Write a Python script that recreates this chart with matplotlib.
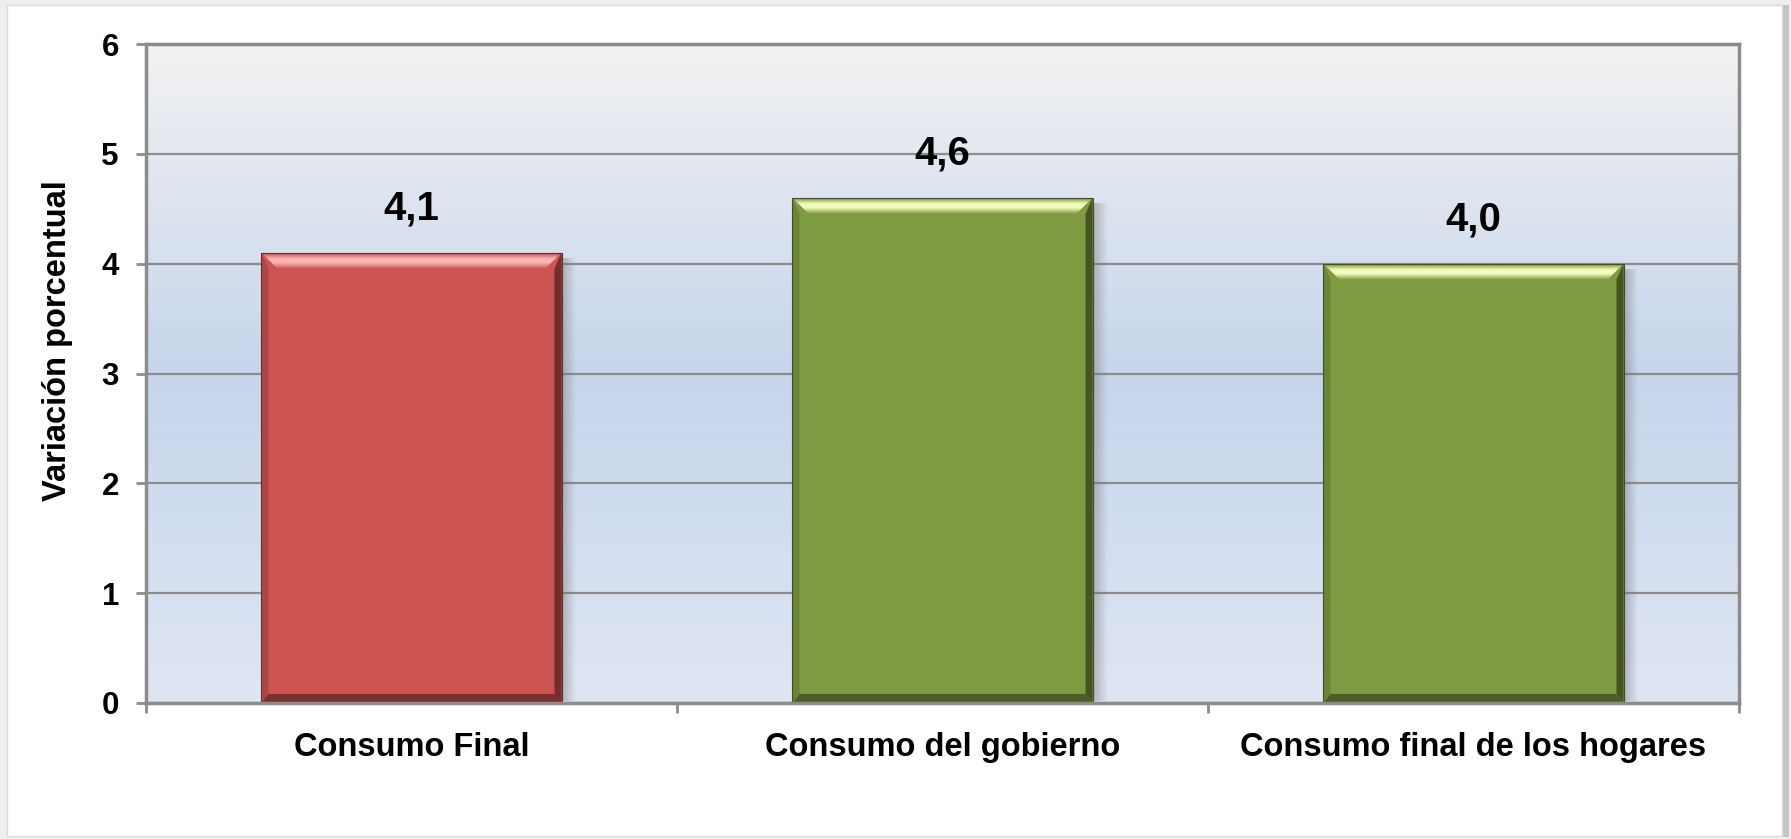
import numpy as np
import matplotlib
matplotlib.use("Agg")
import matplotlib.pyplot as plt
from matplotlib.colors import LinearSegmentedColormap, to_rgb
from matplotlib.patches import Polygon, Rectangle

# ---------------- data ----------------
categories = ["Consumo Final", "Consumo del gobierno", "Consumo final de los hogares"]
values = [4.1, 4.6, 4.0]
value_labels = ["4,1", "4,6", "4,0"]
y_ticks = [0, 1, 2, 3, 4, 5, 6]
y_label = "Variación porcentual"

# ---------------- style ----------------
bar_colors = ["#cb5450", "#7f9b42", "#7f9b42"]
highlight_colors = ["#fbb4b1", "#f3fbbf"]
W, H = 1791, 839
plt.rcParams["font.family"] = ["Liberation Sans", "DejaVu Sans"]

fig = plt.figure(figsize=(W / 100, H / 100), dpi=100)
fig.patch.set_facecolor("white")

# outer frame with light shadow
fig.patches.append(Rectangle((0, 0), 1, 1, transform=fig.transFigure,
                             facecolor="#eeeeee", edgecolor="none", zorder=-20))
fig.patches.append(Rectangle((1782 / W, 2 / H), 7 / W, 832 / H, transform=fig.transFigure,
                             facecolor="#c4c4c4", edgecolor="none", zorder=-19))
fig.patches.append(Rectangle((7 / W, 3 / H), (1782 - 7) / W, (834 - 3) / H,
                             transform=fig.transFigure, facecolor="white",
                             edgecolor="#dadada", lw=1.0, zorder=-18))

ax = fig.add_axes([146 / W, 136 / H, 1593 / W, 659 / H])
x = np.arange(len(categories))
ax.set_xlim(-0.5, len(categories) - 0.5)
ax.set_ylim(y_ticks[0], y_ticks[-1])
ax.patch.set_alpha(0)

# plot-area gradient background
bg_cmap = LinearSegmentedColormap.from_list(
    "bg", [(0.0, "#dfe6f3"), (0.5, "#c6d5ec"), (1.0, "#f2f2f2")])
grad = np.linspace(0, 1, 256).reshape(-1, 1)
ax.imshow(grad, extent=[-0.5, len(categories) - 0.5, y_ticks[0], y_ticks[-1]],
          aspect="auto", cmap=bg_cmap, origin="lower", zorder=0, interpolation="bicubic")

# grid and spines
ax.set_yticks(y_ticks)
ax.set_yticklabels([str(t) for t in y_ticks], fontsize=22.5, fontweight="bold")
ax.yaxis.grid(True, color="#8c8c8c", lw=1.6, zorder=1)
for sp in ax.spines.values():
    sp.set_color("#8c8c8c")
    sp.set_linewidth(2.5)
    sp.set_zorder(5)
ax.tick_params(axis="y", which="major", length=7.5, width=2, color="#8c8c8c",
               pad=12, direction="out")

bounds = np.arange(len(categories) + 1) - 0.5
ax.set_xticks(bounds)
ax.set_xticklabels([])
ax.tick_params(axis="x", which="major", length=7.5, width=2, color="#8c8c8c", direction="out")
ax.set_xticks(x, minor=True)
ax.set_xticklabels(categories, minor=True, fontsize=23.5, fontweight="bold")
ax.tick_params(axis="x", which="minor", length=0, pad=21)

ax.set_ylabel(y_label, fontsize=23.5, fontweight="bold")
ax.yaxis.set_label_coords(-0.046, 0.55)

# bars
bar_w = 0.565
bars = ax.bar(x, values, width=bar_w, color=bar_colors, zorder=3, edgecolor="none")

px_x = 1593 / (len(categories))          # pixels per x data unit
px_y = 659 / (y_ticks[-1] - y_ticks[0])  # pixels per y data unit


def shade(c, f):
    r, g, b = to_rgb(c)
    return (r * f, g * f, b * f)


for i, p in enumerate(bars.patches):
    x0, y0 = p.get_x(), p.get_y()
    x1, y1 = x0 + p.get_width(), y0 + p.get_height()
    base = bar_colors[i]
    hl = highlight_colors[0] if i == 0 else highlight_colors[1]
    bt = 16 / px_x
    bty = 16 / px_y
    bs = 7 / px_x
    bsy = 9 / px_y

    # drop shadow to the right
    sh_w = 14 / px_x
    sh = np.zeros((2, 64, 4))
    sh[..., :3] = 0.45
    sh[..., 3] = np.linspace(0.45, 0.0, 64)[None, :]
    ax.imshow(sh, extent=[x1, x1 + sh_w, y0 + 2 / px_y, y1 - 6 / px_y],
              aspect="auto", zorder=2.5, interpolation="bilinear")
    shb = np.zeros((32, 2, 4))
    shb[..., :3] = 0.45
    shb[..., 3] = np.linspace(0.0, 0.35, 32)[:, None]
    ax.imshow(shb, extent=[x0 + 6 / px_x, x1 + 6 / px_x, y0 - 5 / px_y, y0],
              aspect="auto", origin="lower", zorder=2.5, interpolation="bilinear")

    # left bevel
    ax.add_patch(Polygon([(x0, y0), (x0, y1), (x0 + bs, y1 - bty), (x0 + bs, y0 + bsy)],
                         closed=True, facecolor=shade(base, 0.85), edgecolor="none", zorder=4))
    # right bevel
    ax.add_patch(Polygon([(x1, y0), (x1, y1), (x1 - bs, y1 - bty), (x1 - bs, y0 + bsy)],
                         closed=True, facecolor=shade(base, 0.55), edgecolor="none", zorder=4))
    # bottom bevel
    ax.add_patch(Polygon([(x0, y0), (x1, y0), (x1 - bs, y0 + bsy), (x0 + bs, y0 + bsy)],
                         closed=True, facecolor=shade(base, 0.6), edgecolor="none", zorder=4))
    # top bevel with highlight gradient
    top = Polygon([(x0, y1), (x1, y1), (x1 - bt, y1 - bty), (x0 + bt, y1 - bty)],
                  closed=True, facecolor="none", edgecolor="none", zorder=4)
    ax.add_patch(top)
    tcm = LinearSegmentedColormap.from_list(
        "t%d" % i, [(0.0, base), (0.4, hl), (0.65, hl), (1.0, shade(base, 0.95))])
    im = ax.imshow(np.linspace(0, 1, 64).reshape(-1, 1), extent=[x0, x1, y1 - bty, y1],
                   aspect="auto", cmap=tcm, origin="lower", zorder=4.1, interpolation="bilinear")
    im.set_clip_path(top)
    # thin dark outline
    ax.add_patch(Rectangle((x0, y0), x1 - x0, y1 - y0, facecolor="none",
                           edgecolor=shade(base, 0.5), lw=0.8, zorder=4.2))

    ax.annotate(value_labels[i], (p.get_x() + p.get_width() / 2, y1),
                xytext=(0, 32), textcoords="offset points", ha="center", va="center",
                fontsize=29, fontweight="bold", color="black", zorder=6)

ax.set_xlim(-0.5, len(categories) - 0.5)
ax.set_ylim(y_ticks[0], y_ticks[-1])

fig.savefig("out.png", dpi=100, facecolor=fig.get_facecolor())
